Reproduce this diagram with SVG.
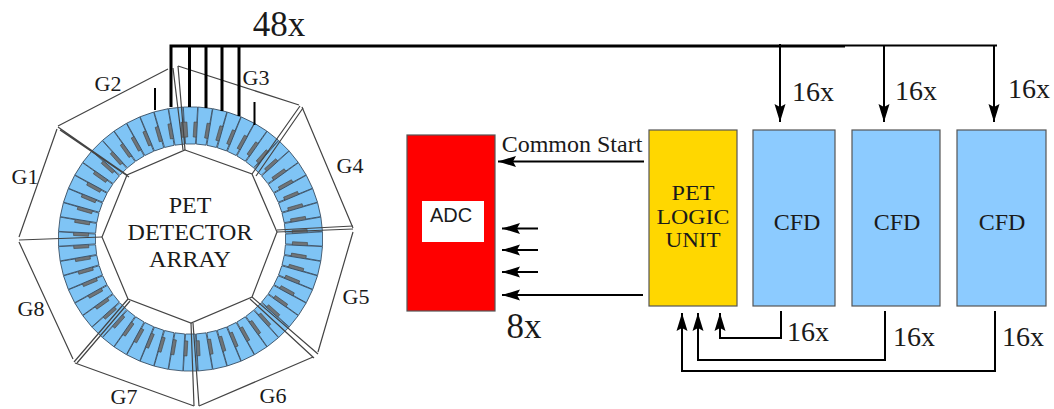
<svg xmlns="http://www.w3.org/2000/svg" width="1054" height="409" viewBox="0 0 1054 409">
<style>
text{font-family:"Liberation Serif","Times New Roman",serif;fill:#1a1a1a;text-anchor:middle}
.g{font-size:22px}.m{font-size:24px}.n{font-size:28px}.p{font-size:20.500px}
.box{stroke:#555;stroke-width:1.2}
.out{fill:none;stroke:#444;stroke-width:1.2}
.t{fill:none;stroke:#000;stroke-width:3}
.arr{fill:none;stroke:#000;stroke-width:2}
.a{marker-end:url(#ah)}
</style>
<defs>
<marker id="ah" markerUnits="userSpaceOnUse" markerWidth="20" markerHeight="12" refX="18" refY="6" orient="auto"><path d="M0 .5L18 6L0 11.500L3 6Z" fill="#000"/></marker>
<g id="c">
<path d="M-7.200 -132L7.200 -132L4.900 -95L-4.900 -95Z" fill="#7fc4f5" stroke="#34495e" stroke-width=".8"/>
<rect x="-3" y="-117" width="6" height="15" transform="rotate(3.2)" fill="#6f7478" stroke="#444" stroke-width=".6"/>
</g>
</defs>
<rect width="1054" height="409" fill="#fff"/>
<g id="pet-detector-array">
<g id="ring" transform="translate(190.5 239)">
<use href="#c" transform="rotate(0)"/><use href="#c" transform="rotate(6.43)"/><use href="#c" transform="rotate(12.86)"/><use href="#c" transform="rotate(19.29)"/><use href="#c" transform="rotate(25.71)"/><use href="#c" transform="rotate(32.14)"/><use href="#c" transform="rotate(38.57)"/><use href="#c" transform="rotate(45)"/><use href="#c" transform="rotate(51.43)"/><use href="#c" transform="rotate(57.86)"/><use href="#c" transform="rotate(64.29)"/><use href="#c" transform="rotate(70.71)"/><use href="#c" transform="rotate(77.14)"/><use href="#c" transform="rotate(83.57)"/><use href="#c" transform="rotate(90)"/><use href="#c" transform="rotate(96.43)"/><use href="#c" transform="rotate(102.86)"/><use href="#c" transform="rotate(109.29)"/><use href="#c" transform="rotate(115.71)"/><use href="#c" transform="rotate(122.14)"/><use href="#c" transform="rotate(128.57)"/><use href="#c" transform="rotate(135)"/><use href="#c" transform="rotate(141.43)"/><use href="#c" transform="rotate(147.86)"/><use href="#c" transform="rotate(154.29)"/><use href="#c" transform="rotate(160.71)"/><use href="#c" transform="rotate(167.14)"/><use href="#c" transform="rotate(173.57)"/><use href="#c" transform="rotate(180)"/><use href="#c" transform="rotate(186.43)"/><use href="#c" transform="rotate(192.86)"/><use href="#c" transform="rotate(199.29)"/><use href="#c" transform="rotate(205.71)"/><use href="#c" transform="rotate(212.14)"/><use href="#c" transform="rotate(218.57)"/><use href="#c" transform="rotate(225)"/><use href="#c" transform="rotate(231.43)"/><use href="#c" transform="rotate(237.86)"/><use href="#c" transform="rotate(244.29)"/><use href="#c" transform="rotate(250.71)"/><use href="#c" transform="rotate(257.14)"/><use href="#c" transform="rotate(263.57)"/><use href="#c" transform="rotate(270)"/><use href="#c" transform="rotate(276.43)"/><use href="#c" transform="rotate(282.86)"/><use href="#c" transform="rotate(289.29)"/><use href="#c" transform="rotate(295.71)"/><use href="#c" transform="rotate(302.14)"/><use href="#c" transform="rotate(308.57)"/><use href="#c" transform="rotate(315)"/><use href="#c" transform="rotate(321.43)"/><use href="#c" transform="rotate(327.86)"/><use href="#c" transform="rotate(334.29)"/><use href="#c" transform="rotate(340.71)"/><use href="#c" transform="rotate(347.14)"/><use href="#c" transform="rotate(353.57)"/>
</g>
<path class="out" d="M185 150L252 174L277 232L252 297L191 323L128 299L102 237L127 175Z"/>
<path class="out" d="M57 129L19 237M58 126L168 69M178 66L299 105M302 107L353 228M353 232L318 352M313 357L199 406M194 406L75 363M73 359L19 242"/>
<path class="out" d="M173 68L183 150M178 66L185 150M300 106L252 174M303 108L256 176M58 127L127 175M60 130L129 177M19 240L102 237M277 232L353 229M277 230L353 226M318 354L252 297M314 358L250 299M194 406L191 323M199 406L193 323M74 362L128 299M77 363L130 301"/>
<text class="g" x="108" y="91">G2</text>
<text class="g" x="256" y="85">G3</text>
<text class="g" x="350" y="173">G4</text>
<text class="g" x="356" y="304">G5</text>
<text class="g" x="273" y="403">G6</text>
<text class="g" x="124" y="404">G7</text>
<text class="g" x="31" y="316">G8</text>
<text class="g" x="25" y="184">G1</text>
<text class="m" x="190" y="213">PET</text>
<text class="m" x="190" y="240">DETECTOR</text>
<text class="m" x="190" y="267">ARRAY</text>
</g>
<g id="adc">
<rect class="box" x="407" y="135" width="88" height="176" fill="#f00"/>
<rect x="422" y="201" width="62" height="41" fill="#fff"/>
<text x="451" y="222" style="font-family:'Liberation Sans',Arial,sans-serif;font-size:20px">ADC</text>
</g>
<g id="pet-logic-unit">
<rect class="box" x="649" y="130" width="88" height="176" fill="#ffd700"/>
<text class="p" x="693" y="200" textLength="43" lengthAdjust="spacingAndGlyphs">PET</text>
<text class="p" x="693" y="223.500" textLength="73" lengthAdjust="spacingAndGlyphs">LOGIC</text>
<text class="p" x="693" y="247" textLength="55" lengthAdjust="spacingAndGlyphs">UNIT</text>
</g>
<g id="cfd-1"><rect class="box" x="753" y="130" width="82" height="176" fill="#8ccbff"/><text class="m" x="797" y="230">CFD</text></g>
<g id="cfd-2"><rect class="box" x="852" y="130" width="88" height="176" fill="#8ccbff"/><text class="m" x="897" y="230">CFD</text></g>
<g id="cfd-3"><rect class="box" x="957" y="130" width="89" height="176" fill="#8ccbff"/><text class="m" x="1002" y="230">CFD</text></g>
<g id="connectors">
<path class="t" d="M171 107V46H845M189.500 107V46M206 108V46M222 111V46M239 116V46"/>
<path class="arr" d="M155 88V110M254.500 102V125M845 45.500H997"/>
<path class="arr a" d="M780 44V122"/>
<path class="arr a" d="M884 45V122"/>
<path class="arr a" d="M994 45V122"/>
<path class="arr a" d="M644 161.500H498"/>
<path class="arr a" d="M538 228.500H502"/>
<path class="arr a" d="M538 250H502"/>
<path class="arr a" d="M538 272H502"/>
<path class="arr a" d="M643 295H502"/>
<path class="arr a" d="M781 311V338H720V313"/>
<path class="arr a" d="M885 311V360H698V313"/>
<path class="arr a" d="M995 311V371H682V313"/>
</g>
<text x="279" y="36" style="font-size:35px">48x</text>
<text class="m" x="572" y="152">Common Start</text>
<text x="524" y="338" style="font-size:35px">8x</text>
<text class="n" x="813" y="101">16x</text>
<text class="n" x="916" y="100">16x</text>
<text class="n" x="1029" y="98">16x</text>
<text class="n" x="808" y="341">16x</text>
<text class="n" x="914" y="346">16x</text>
<text class="n" x="1023" y="346">16x</text>
</svg>
